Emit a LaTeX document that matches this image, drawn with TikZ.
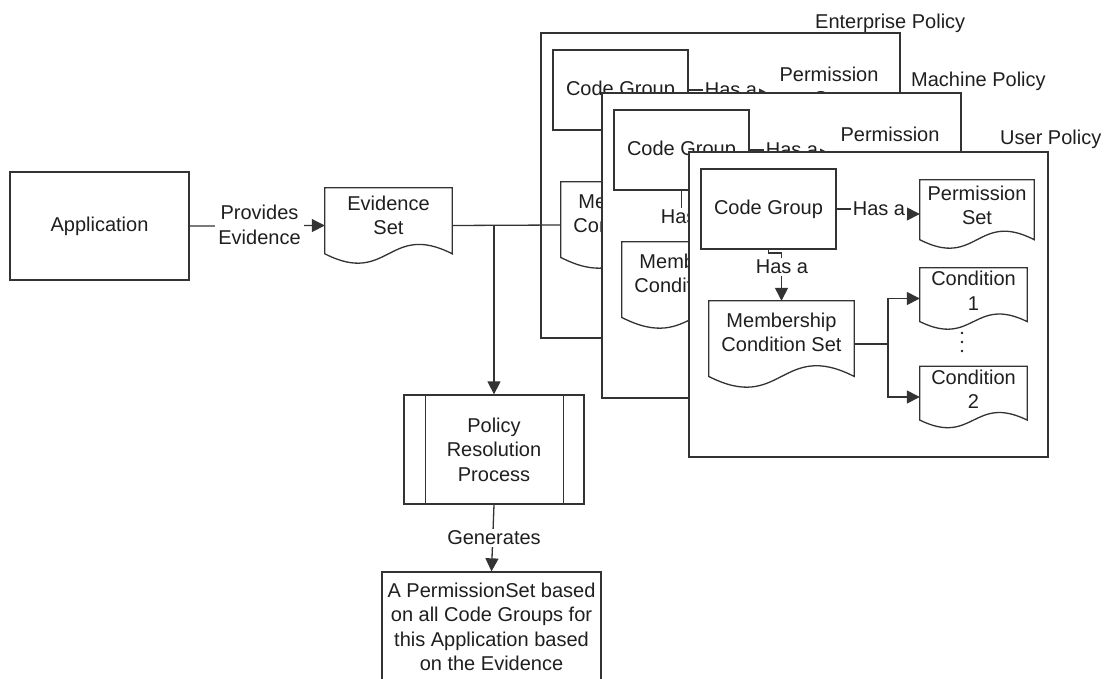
\documentclass[tikz,border=0pt]{standalone}
\usepackage{fontspec}
\setmainfont{Liberation Sans}
\usetikzlibrary{arrows.meta,calc}

\definecolor{linecol}{gray}{0.2}
\definecolor{inkcol}{gray}{0.12}

\tikzset{
  every node/.style={text=inkcol, font=\fontsize{20}{24.5}\selectfont},
  box/.style={draw=linecol, line width=1.3pt, fill=white, inner sep=0pt, align=center},
  panelbox/.style={box, minimum width=359, minimum height=305},
  docnode/.style={draw=none, inner sep=0pt, rectangle},
  docline/.style={draw=linecol, line width=1.3pt, fill=white},
  docghost/.style={draw=none, fill=none},
  txt/.style={inner sep=0pt, align=center},
  lbl/.style={fill=white, inner sep=2pt, align=center},
  conn/.style={draw=linecol, line width=1.3pt},
  arr/.style={conn, -{Triangle[length=13pt,width=13pt]}},
  dot/.style={circle, fill=inkcol, inner sep=0pt, minimum size=2.8pt},
}

% document shape: straight top and sides, wavy bottom; #3 = wave depth
\newcommand\docpath[3][docline]{%
  \path[#1] ($(#2.south west)+(0,#3)$) -- (#2.north west) -- (#2.north east)
    -- ($(#2.south east)+(0,#3)$)
    .. controls ($(#2.south)+(0,#3+3.46*#3)$) and ($(#2.south)+(0,#3-3.46*#3)$)
    .. ($(#2.south west)+(0,#3)$) -- cycle;
}

% one policy level: prefix, left, top, permission-set outline style,
% label x, label y, jog y of the downward connector
\newcommand\policypanel[7]{%
\begin{scope}[shift={(#2,-#3)}]
  \node[panelbox] (#1panel) at (179.5,-152.5) {};
  \node[box, minimum width=135, minimum height=80] (#1cg) at (79.5,-57) {Code Group};
  \node[docnode, minimum width=114, minimum height=68] (#1ps) at (288,-62) {};
  \docpath[#4]{#1ps}{8.5}
  \node[txt] (#1pst) at (288,-53.5) {Permission\\Set};
  \node[docnode, minimum width=145, minimum height=86] (#1mcs) at (92.5,-192) {};
  \docpath{#1mcs}{10.75}
  \node[txt] (#1mcst) at (92.5,-180.5) {Membership\\Condition Set};
  \node[docnode, minimum width=107, minimum height=61] (#1ca) at (284.5,-146.5) {};
  \docpath{#1ca}{7.6}
  \node[txt] (#1cat) at (284.5,-139) {Condition\\1};
  \node[docnode, minimum width=107, minimum height=61] (#1cb) at (284.5,-245) {};
  \docpath{#1cb}{7.6}
  \node[txt] (#1cbt) at (284.5,-237.5) {Condition\\2};
  % vertical ellipsis between the two conditions
  \node[dot] (#1dota) at (273,-181) {};
  \node[dot] (#1dotb) at (273,-190) {};
  \node[dot] (#1dotc) at (273,-199) {};
  \coordinate (#1bend) at (190,-57);
  \coordinate (#1jog) at (79.5,-#7);
  \coordinate (#1split) at (199,-192);
  \draw[arr] (#1cg.east) -- (#1bend) |- (#1ps.west);
  \draw[arr] (#1cg.south) -- (#1jog) -| (#1mcs.north);
  \draw[arr] (#1mcs.east) -- (#1split) |- (#1ca.west);
  \draw[arr] (#1split) |- (#1cb.west);
  \node[lbl] (#1hasps) at (#1bend) {Has a};
  \node[lbl] (#1hasmcs) at (#5,-#6) {Has a};
\end{scope}}

\begin{document}
\begin{tikzpicture}[x=1pt,y=1pt]
  \useasboundingbox (0,0) rectangle (1107,-679);
  \clip (0,0) rectangle (1107,-679);

  % application and its evidence
  \node[box, minimum width=179, minimum height=108] (app) at (99.5,-226) {Application};
  \node[docnode, minimum width=127, minimum height=75] (ev) at (388.5,-225.5) {};
  \docpath{ev}{9.4}
  \node[txt] (evt) at (388.5,-215.5) {Evidence\\Set};
  \draw[arr] (app.east) -- (ev.west);
  \node[lbl, inner sep=3pt] (provides) at (259.5,-225) {Provides\\Evidence};

  % policy resolution
  \node[box, minimum width=180, minimum height=109] (prp) at (494,-449.5) {Policy\\Resolution\\Process};
  \draw[conn] ($(prp.north west)+(22,0)$) -- ($(prp.south west)+(22,0)$);
  \draw[conn] ($(prp.north east)+(-21,0)$) -- ($(prp.south east)+(-21,0)$);
  \node[box, minimum width=219, minimum height=109.5] (result) at (491.5,-626.75)
    {A PermissionSet based\\on all Code Groups for\\this Application based\\on the Evidence};
  \draw[arr] (prp.south) -- (result.north);
  \node[lbl] (generates) at (494,-538) {Generates};

  % the three policy levels
  \policypanel{E}{541}{33}{docghost}{85}{124}{124}
  \coordinate (branch) at (494,-225.5);
  \draw[conn] (ev.east) -- (Emcs.west);
  \draw[arr] (branch) -- (prp.north);
  \policypanel{M}{602}{93}{docghost}{85}{124}{124}
  \policypanel{U}{689}{152}{docline}{93}{115}{101}

  \node[txt, anchor=west] (entname) at (815,-23) {Enterprise Policy};
  \node[txt, anchor=west] (machname) at (911,-81) {Machine Policy};
  \node[txt, anchor=west] (username) at (1000,-139) {User Policy};
\end{tikzpicture}
\end{document}
